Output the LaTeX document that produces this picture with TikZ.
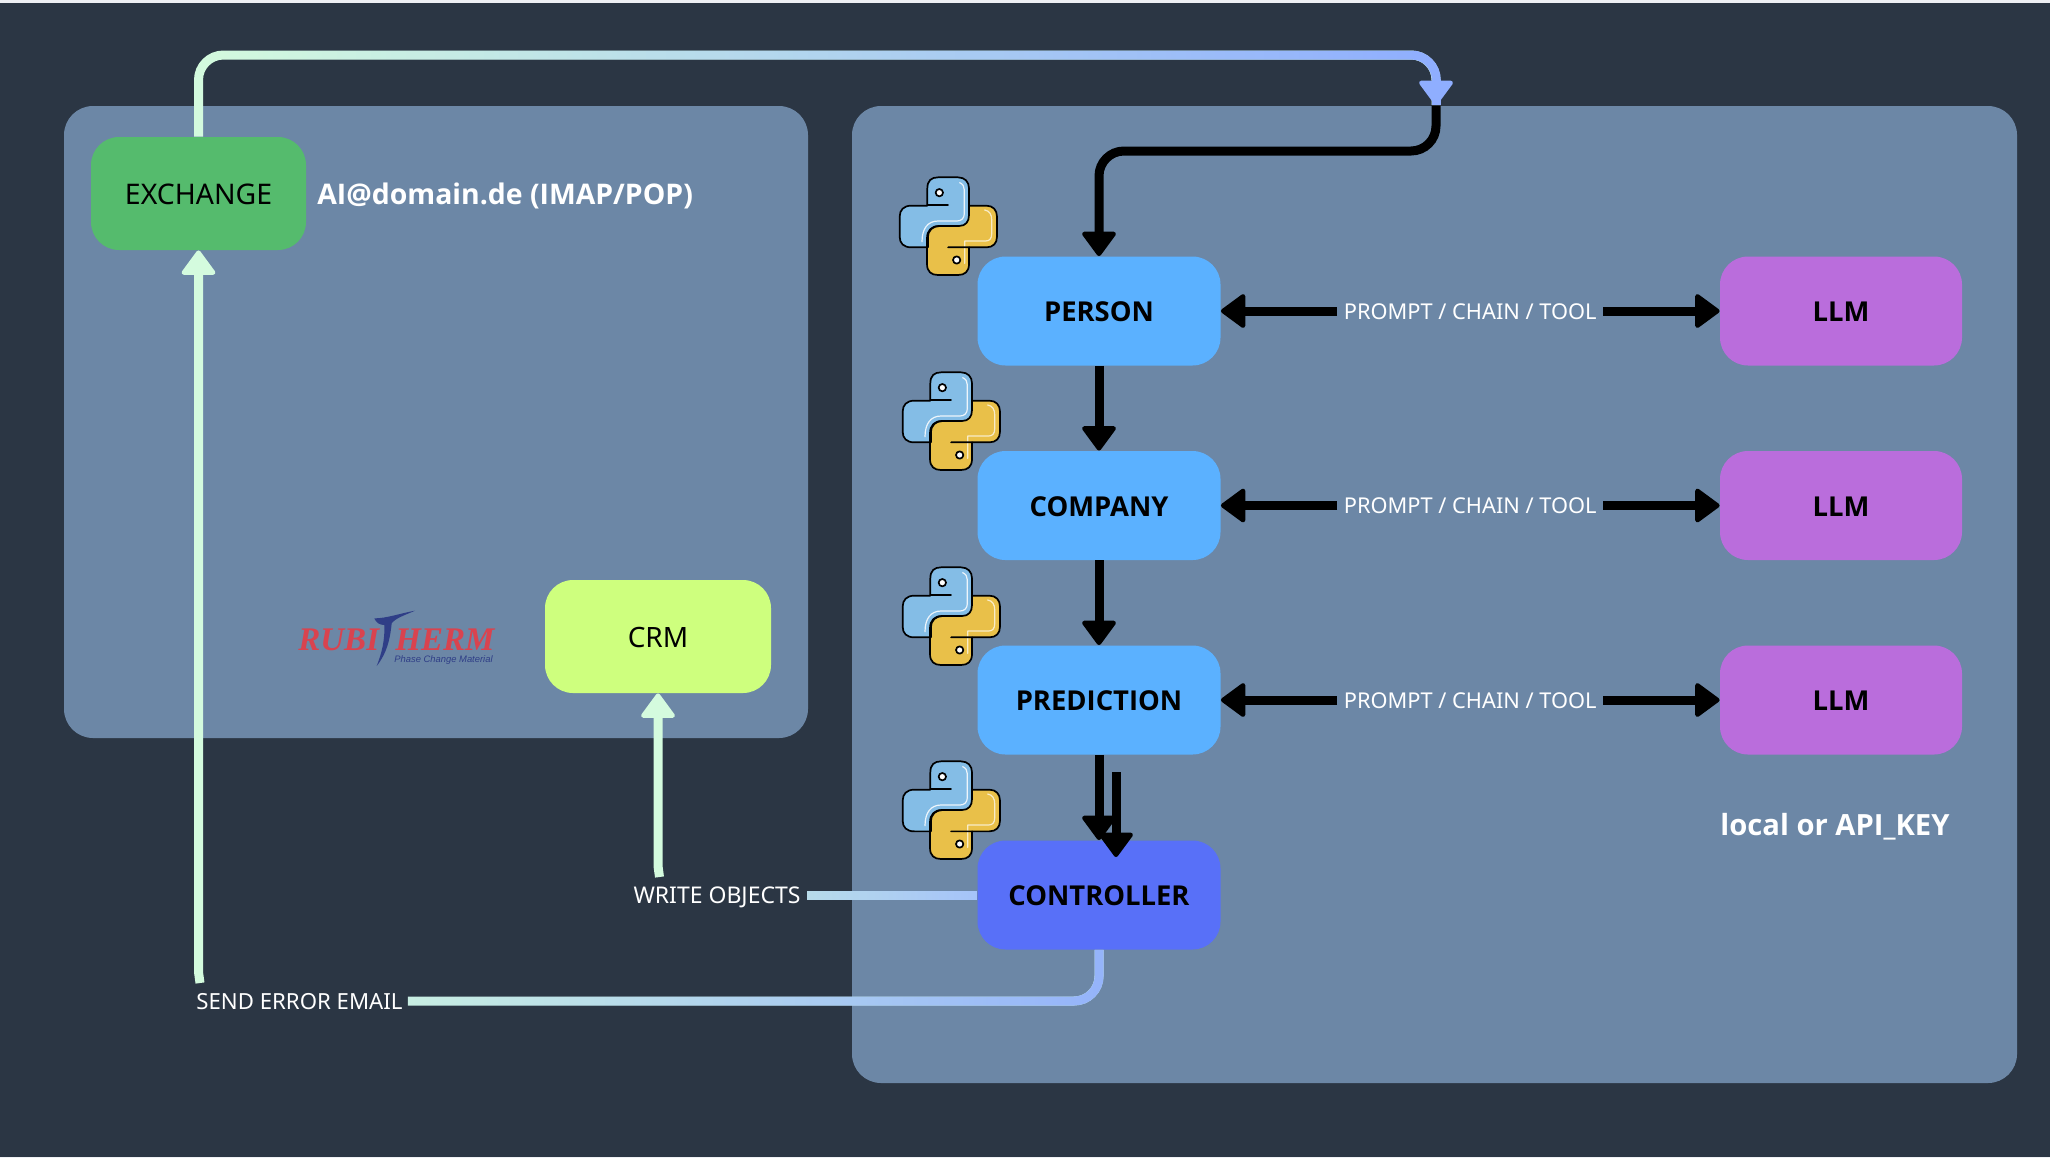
\documentclass[tikz,border=0pt]{standalone}
\usepackage{fontspec}
\setmainfont{Noto Sans}
\newfontfamily\heavyfont{Open Sans}
\newfontfamily\rubiserif{Liberation Serif}
\newfontfamily\rubisans{Liberation Sans}
\usetikzlibrary{arrows.meta,fadings}
\definecolor{bgc}{HTML}{2B3644}
\definecolor{panelc}{HTML}{6C87A6}
\definecolor{stripc}{HTML}{EEF0F4}
\definecolor{agentc}{HTML}{5BB1FF}
\definecolor{ctrlc}{HTML}{5870F8}
\definecolor{llmc}{HTML}{BA6DDC}
\definecolor{exc}{HTML}{55BB6D}
\definecolor{crmc}{HTML}{CEFF7E}
\definecolor{mint}{HTML}{D4FBDE}
\definecolor{peri}{HTML}{8FAEFF}
\definecolor{wleft}{HTML}{B8DCEA}
\definecolor{wright}{HTML}{A5C3FA}
\definecolor{eleft}{HTML}{C9EFE3}
\definecolor{eright}{HTML}{95B4FB}
\definecolor{rubired}{HTML}{D9434F}
\definecolor{rubinavy}{HTML}{2F3E87}
\definecolor{pyblue}{HTML}{84BDE6}
\definecolor{pyyellow}{HTML}{E9C049}
\tikzfading[name=fadeLR, left color=transparent!100, right color=transparent!0]
\tikzset{
  box/.style={rounded corners=14pt, inner sep=0pt, text=black},
  agent/.style={box, fill=agentc, minimum width=121.5pt, minimum height=54.5pt, text height=10.8pt, text depth=0pt, font=\heavyfont\fontsize{13.7}{16}\selectfont\bfseries},
  llm/.style={box, fill=llmc, minimum width=121pt, minimum height=54.5pt, text height=10.8pt, text depth=0pt, font=\heavyfont\fontsize{13.7}{16}\selectfont\bfseries},
  plainbox/.style={box, minimum height=56.5pt, text height=11pt, text depth=0pt},
  panel/.style={fill=panelc, rounded corners=14.5pt},
  smalllabel/.style={text=white, inner sep=0pt, text height=8.4pt, text depth=0pt},
  biglabel/.style={text=white, inner sep=0pt},
  tip/.style={-{Triangle[length=13pt,width=18.5pt,round,line width=2.2pt]}},
  blackline/.style={draw=black, line width=4.5pt},
  flowline/.style={line width=4.5pt},
  corner/.style={rounded corners=12.5pt},
  fadeline/.style={path fading=fadeLR, fit fading=true},
  pylogo/.pic={
    \begin{scope}[x=0.16667pt,y=-0.16667pt,shift={(-205,-198)},line width=0.85pt,line join=round,line cap=round]
      \fill[pyblue] (205,135) -- (143,135) -- (143,85) .. controls (143,62) and (155,52) .. (175,52) -- (235,52) .. controls (255,52) and (268,65) .. (268,85) -- (268,165) .. controls (268,185) and (258,198) .. (238,198) -- (180,198) .. controls (160,198) and (145,210) .. (145,232) -- (145,262) -- (95,262) .. controls (72,262) and (60,250) .. (60,230) -- (60,170) .. controls (60,150) and (72,137) .. (95,137) -- cycle;
      \fill[pyyellow] (268,137) -- (320,137) .. controls (340,137) and (352,150) .. (352,170) -- (352,230) .. controls (352,250) and (340,262) .. (320,262) -- (268,262) -- (268,312) .. controls (268,335) and (255,345) .. (235,345) -- (175,345) .. controls (155,345) and (142,335) .. (142,312) -- (142,235) .. controls (142,212) and (155,198) .. (178,198) -- (238,198) .. controls (258,198) and (268,185) .. (268,165) -- cycle;
      \draw[white!85!pyblue, line width=0.6pt] (240,68) .. controls (250,72) and (254,80) .. (254,90) -- (254,160) .. controls (254,175) and (245,183) .. (232,183) -- (175,183) .. controls (145,183) and (127,205) .. (127,245);
      \draw[white!70!pyyellow, line width=0.6pt] (315,150) .. controls (330,152) and (336,165) .. (336,178) -- (336,222) .. controls (336,235) and (330,243) .. (318,243) -- (255,243) -- (255,310);
      \draw[black] (205,135) -- (143,135) -- (143,85) .. controls (143,62) and (155,52) .. (175,52) -- (235,52) .. controls (255,52) and (268,65) .. (268,85) -- (268,165) .. controls (268,185) and (258,198) .. (238,198) -- (180,198) .. controls (160,198) and (145,210) .. (145,232) -- (145,262) -- (95,262) .. controls (72,262) and (60,250) .. (60,230) -- (60,170) .. controls (60,150) and (72,137) .. (95,137) -- (143,137);
      \draw[black] (268,137) -- (320,137) .. controls (340,137) and (352,150) .. (352,170) -- (352,230) .. controls (352,250) and (340,262) .. (320,262) -- (205,262);
      \draw[black] (268,262) -- (268,312) .. controls (268,335) and (255,345) .. (235,345) -- (175,345) .. controls (155,345) and (142,335) .. (142,312) -- (142,235) .. controls (142,212) and (155,198) .. (178,198);
      \filldraw[fill=white, draw=black] (179,98) circle (11);
      \filldraw[fill=white, draw=black] (231,300) circle (11);
    \end{scope}
  }
}
\begin{document}
\begin{tikzpicture}[x=0.5pt,y=-0.5pt]
\useasboundingbox (0,0) rectangle (2050,1158);
\fill[bgc] (0,0) rectangle (2050,1158);
\fill[stripc] (0,0) rectangle (2050,3);
\fill[stripc] (0,1157) rectangle (2050,1158);
\fill[panel] (64,106) rectangle (808,738);
\fill[panel] (852,106) rectangle (2017,1083);

% nodes
\node[plainbox, fill=exc, minimum width=107.5pt, font=\fontsize{14.2}{16}\selectfont] (exchange) at (198.5,193.5) {EXCHANGE};
\node[plainbox, fill=crmc, minimum width=113pt, font=\fontsize{14}{16}\selectfont] (crm) at (658,636.5) {CRM};
\node[agent] (person) at (1099,311) {PERSON};
\node[agent] (company) at (1099,505.5) {COMPANY};
\node[agent] (prediction) at (1099,700) {PREDICTION};
\node[agent, fill=ctrlc] (controller) at (1099,895) {CONTROLLER};
\node[llm] (llma) at (1841,311) {LLM};
\node[llm] (llmb) at (1841,505.5) {LLM};
\node[llm] (llmc) at (1841,700) {LLM};

% labels
\node[biglabel, anchor=base west, font=\heavyfont\fontsize{14.2}{17}\selectfont\bfseries] (imap) at (317,204) {AI@domain.de (IMAP/POP)};
\node[biglabel, anchor=base west, font=\heavyfont\fontsize{14.6}{17}\selectfont\bfseries] (apikey) at (1720,835) {local or API\_KEY};
\node[smalllabel, minimum width=132.75pt, font=\fontsize{10.9}{14}\selectfont] (pa) at (1470.25,311) {PROMPT / CHAIN / TOOL};
\node[smalllabel, minimum width=132.75pt, font=\fontsize{10.9}{14}\selectfont] (pb) at (1470.25,505.5) {PROMPT / CHAIN / TOOL};
\node[smalllabel, minimum width=132.75pt, font=\fontsize{10.9}{14}\selectfont] (pc) at (1470.25,700) {PROMPT / CHAIN / TOOL};
\node[smalllabel, minimum width=90pt, font=\fontsize{11.5}{14}\selectfont] (writeobj) at (717,895) {WRITE OBJECTS};
\node[smalllabel, minimum width=108pt, font=\fontsize{11.1}{14}\selectfont] (senderr) at (299.5,1001) {SEND ERROR EMAIL};

% coordinates
\coordinate (toptip) at (1436,105);
\coordinate (topcorner) at (1436,55);
\coordinate (topneck) at (1436,80);
\coordinate (blackA) at (1436,151);
\coordinate (blackB) at (1099,151);
\coordinate (secstart) at (1116,772);
\coordinate (secend) at (1116,857);
\coordinate (wstart) at (659.5,877);
\coordinate (wbend) at (658,866);
\coordinate (estart) at (200,983);
\coordinate (ebend) at (198.5,972);

% black connectors
\draw[blackline, tip, corner] (toptip) -- (blackA) -- (blackB) -- (person.north);
\draw[blackline, tip] (person) -- (company);
\draw[blackline, tip] (company) -- (prediction);
\draw[blackline, tip] (prediction) -- (controller);
\draw[blackline, tip] (secstart) -- (secend);
\foreach \p/\a/\l in {pa/person/llma,pb/company/llmb,pc/prediction/llmc}{
  \draw[blackline, tip] (\p) -- (\a);
  \draw[blackline, tip] (\p) -- (\l);
}

% light connectors
\draw[flowline, corner, draw=mint] (exchange.north) |- (topcorner) -- (toptip);
\draw[flowline, corner, draw=peri, fadeline] (exchange.north) |- (topcorner) -- (toptip);
\draw[flowline, draw=peri, tip] (topneck) -- (toptip);
\draw[flowline, draw=mint, tip] (estart) .. controls (199,978) .. (ebend) -- (exchange.south);
\draw[flowline, draw=mint, tip] (wstart) .. controls (658.5,872) .. (wbend) -- (crm.south);
\draw[flowline, draw=wleft] (writeobj) -- (controller);
\draw[flowline, draw=wright, fadeline] (writeobj) -- (controller);
\draw[flowline, corner, draw=eleft] (senderr) -| (controller);
\draw[flowline, corner, draw=eright, fadeline] (senderr) -| (controller);

% python logos
\pic at (948,226) {pylogo};
\pic at (951,421) {pylogo};
\pic at (951,616) {pylogo};
\pic at (951,810) {pylogo};

% Rubitherm logo
\node[inner sep=0pt, anchor=base west, text=rubired, font=\rubiserif\fontsize{16.5}{18}\selectfont\bfseries\itshape] (rubi) at (298,650) {RUBI};
\node[inner sep=0pt, anchor=base west, text=rubired, font=\rubiserif\fontsize{16.5}{18}\selectfont\bfseries\itshape] (herm) at (395,650) {HERM};
\node[inner sep=0pt, anchor=base west, text=rubinavy, font=\rubisans\fontsize{4.7}{5}\selectfont\itshape] (slogan) at (394,662) {Phase Change Material};
\begin{scope}[x=0.16667pt,y=-0.16667pt,shift={(840,1770)}]
\fill[rubinavy] (283,85) .. controls (320,85) and (360,70) .. (405,62) .. controls (375,75) and (345,85) .. (335,100) .. controls (330,150) and (320,190) .. (290,228) .. controls (305,190) and (315,150) .. (313,105) .. controls (298,105) and (288,97) .. (283,85) -- cycle;
\end{scope}
\end{tikzpicture}
\end{document}
